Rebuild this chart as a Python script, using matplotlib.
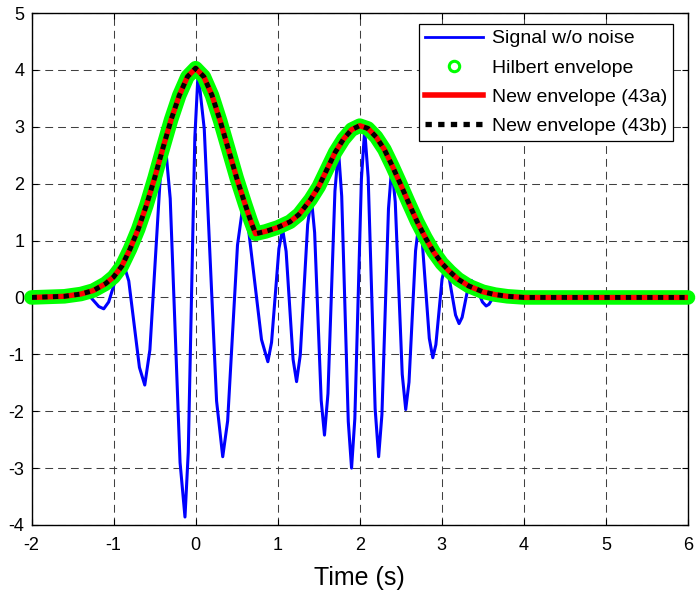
import numpy as np
import matplotlib.pyplot as plt
from matplotlib.lines import Line2D

plt.rcParams['font.family'] = ['Liberation Sans', 'DejaVu Sans']
plt.rcParams['axes.unicode_minus'] = False

# signal w/o noise (time in s, amplitude):
# extrema plus two points on each flank
sig_t = [-2.0, -1.55, -1.35, -1.29, -1.18, -1.12, -1.06, -0.94, -0.88,
         -0.815, -0.685, -0.62, -0.5575, -0.4325, -0.37, -0.31, -0.19, -0.13,
         -0.09, -0.01, 0.03, 0.105, 0.255, 0.33, 0.39, 0.51, 0.57,
         0.6475, 0.8025, 0.88, 0.925, 1.015, 1.06, 1.1025, 1.1875, 1.23,
         1.275, 1.365, 1.41, 1.45, 1.53, 1.57, 1.6125, 1.6975, 1.74,
         1.78, 1.86, 1.90, 1.94, 2.02, 2.06, 2.1025, 2.1875, 2.23,
         2.27, 2.35, 2.39, 2.4325, 2.5175, 2.56, 2.60, 2.68, 2.72,
         2.7625, 2.8475, 2.89, 2.9275, 3.0025, 3.04, 3.0825, 3.1675, 3.21,
         3.2475, 3.3225, 3.36, 3.405, 3.495, 3.54, 3.575, 3.645, 3.68,
         3.80, 6.0]
sig_v = [0.0, 0.0, 0.06, 0.02, -0.16, -0.20, -0.08, 0.48, 0.60,
         0.29, -1.23, -1.54, -0.92, 2.08, 2.70, 1.74, -2.90, -3.86,
         -2.72, 2.81, 3.95, 2.96, -1.82, -2.80, -2.17, 0.92, 1.55,
         1.16, -0.74, -1.13, -0.79, 0.86, 1.20, 0.81, -1.09, -1.48,
         -1.01, 1.28, 1.75, 1.14, -1.81, -2.42, -1.69, 1.87, 2.60,
         1.78, -2.18, -3.00, -2.13, 2.08, 2.95, 2.11, -1.96, -2.80,
         -2.06, 1.56, 2.30, 1.68, -1.35, -1.97, -1.49, 0.82, 1.30,
         0.96, -0.72, -1.06, -0.83, 0.32, 0.55, 0.40, -0.31, -0.46,
         -0.35, 0.19, 0.30, 0.23, -0.08, -0.15, -0.12, 0.05, 0.08,
         0.0, 0.0]

# envelope (Hilbert / 43a / 43b lie on top of each other)
env_t = [-2.0, -1.6, -1.4, -1.25, -1.1, -1.0, -0.9, -0.8, -0.7, -0.6,
         -0.5, -0.4, -0.3, -0.2, -0.1, 0.0, 0.1, 0.2, 0.3, 0.4,
         0.5, 0.6, 0.67, 0.73, 0.85, 1.0, 1.15, 1.26, 1.4, 1.5,
         1.6, 1.7, 1.8, 1.9, 2.0, 2.1, 2.2, 2.3, 2.4, 2.5,
         2.6, 2.7, 2.8, 2.9, 3.0, 3.1, 3.2, 3.33, 3.5, 3.65,
         3.8, 4.0, 6.0]
env_v = [0.0, 0.02, 0.06, 0.12, 0.24, 0.36, 0.55, 0.85, 1.20, 1.62,
         2.10, 2.62, 3.12, 3.55, 3.88, 4.03, 3.88, 3.55, 3.10, 2.60,
         2.10, 1.65, 1.35, 1.12, 1.16, 1.23, 1.33, 1.46, 1.72, 1.95,
         2.25, 2.55, 2.78, 2.95, 3.02, 2.97, 2.82, 2.60, 2.30, 1.98,
         1.65, 1.33, 1.05, 0.80, 0.60, 0.45, 0.32, 0.20, 0.10, 0.05,
         0.02, 0.0, 0.0]

labels = ['Signal w/o noise', 'Hilbert envelope', 'New envelope (43a)', 'New envelope (43b)']

fig = plt.figure(figsize=(6.96, 5.92), dpi=100)
ax = fig.add_axes([0.0453, 0.1132, 0.9432, 0.8648])

ax.plot(sig_t, sig_v, color='#0000ff', lw=2.2, solid_joinstyle='round', zorder=2)
ax.plot(env_t, env_v, color='#00ff00', lw=10.5, solid_capstyle='round',
        solid_joinstyle='round', zorder=3, clip_on=False)
ax.plot(env_t, env_v, color='#ff0000', lw=3.8, zorder=4)
ax.plot(env_t, env_v, color='k', lw=3.5, linestyle=(0, (1.1, 1.1)),
        dash_capstyle='butt', zorder=5)

ax.set_xlim(-2, 6)
ax.set_ylim(-4, 5)
ax.set_xticks(np.arange(-2, 7, 1))
ax.set_yticks(np.arange(-4, 6, 1))
ax.grid(True, color='#404040', lw=0.75, linestyle=(0, (7.5, 4.8)))
ax.set_axisbelow(True)
ax.tick_params(direction='in', length=4, width=0.8, top=True, right=True,
               labelsize=13, pad=5)
ax.tick_params(axis='x', pad=9)
for s in ax.spines.values():
    s.set_linewidth(1.0)
ax.set_xlabel('Time (s)', fontsize=18, labelpad=8)

handles = [
    Line2D([], [], color='#0000ff', lw=2),
    Line2D([], [], color='#00ff00', marker='o', ls='none', ms=7.5,
           mfc='none', mec='#00ff00', mew=2.2),
    Line2D([], [], color='#ff0000', lw=4),
    Line2D([], [], color='k', lw=3.8, linestyle=(0, (1.2, 1.2)), dash_capstyle='butt'),
]
leg = ax.legend(handles, labels, loc='upper right',
                bbox_to_anchor=(673 / 696, 1 - 24 / 592),
                bbox_transform=fig.transFigure, borderaxespad=0,
                fontsize=14, handlelength=3.0, handletextpad=0.45,
                labelspacing=0.6, borderpad=0.3, fancybox=False,
                framealpha=1, edgecolor='k')
leg.get_frame().set_linewidth(0.9)

fig.savefig('out.png', dpi=100)
